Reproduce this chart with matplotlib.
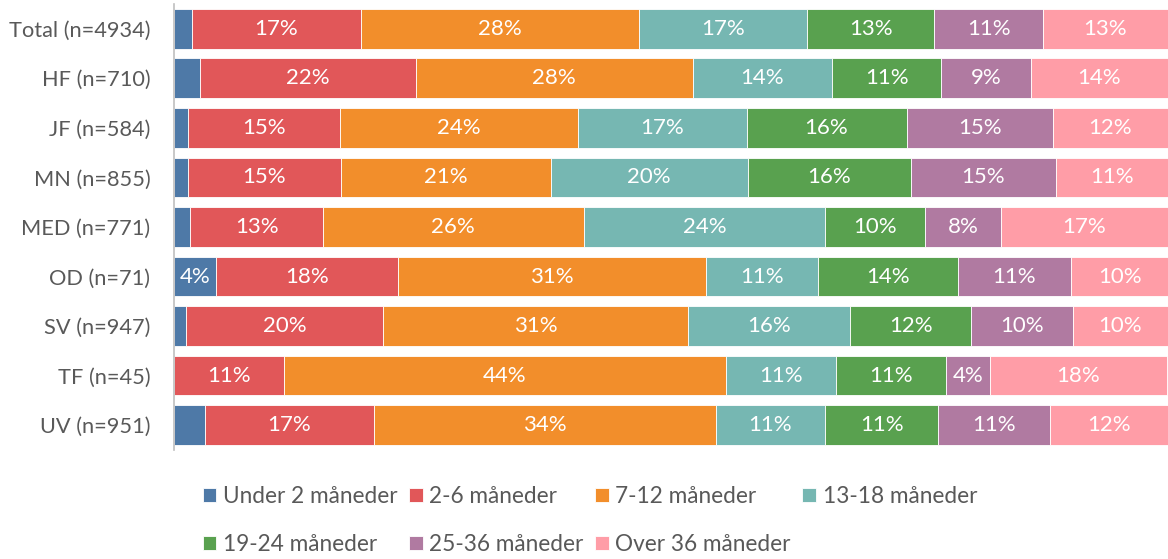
import numpy as np
import matplotlib.pyplot as plt

plt.rcParams["font.family"] = ["Lato", "DejaVu Sans"]

# data (percent per row)
groups = ["Total (n=4934)", "HF (n=710)", "JF (n=584)", "MN (n=855)", "MED (n=771)",
          "OD (n=71)", "SV (n=947)", "TF (n=45)", "UV (n=951)"]
series = ["Under 2 måneder", "2-6 måneder", "7-12 måneder", "13-18 måneder",
          "19-24 måneder", "25-36 måneder", "Over 36 måneder"]
under_2 = [1.8, 2.6, 1.4, 1.4, 1.6, 4.2, 1.2, 0.0, 3.1]
m2_6 = [17.0, 21.7, 15.3, 15.4, 13.4, 18.3, 19.8, 11.1, 17.0]
m7_12 = [28.0, 27.9, 23.9, 21.1, 26.2, 31.0, 30.7, 44.4, 34.4]
m13_18 = [16.9, 14.0, 17.0, 19.8, 24.3, 11.3, 16.3, 11.1, 11.0]
m19_24 = [12.8, 11.0, 16.1, 16.4, 10.1, 14.1, 12.2, 11.1, 11.4]
m25_36 = [10.9, 9.0, 14.7, 14.6, 7.6, 11.3, 10.2, 4.4, 11.2]
over_36 = [12.6, 13.8, 11.6, 11.3, 16.8, 9.9, 9.6, 17.8, 11.9]
colors = ["#4e79a7", "#e15759", "#f28e2b", "#76b7b2", "#59a14f", "#b07aa1", "#ff9da7"]

values = [under_2, m2_6, m7_12, m13_18, m19_24, m25_36, over_36]
txt = "#595959"

fig = plt.figure(figsize=(11.68, 5.59), dpi=100)
ax = fig.add_axes([0.149, 0.195, 0.851, 0.798])

y = np.arange(len(groups))
left = np.zeros(len(groups))
for name, vals, col in zip(series, values, colors):
    vals = np.array(vals)
    bars = ax.barh(y, vals, left=left, height=0.8, color=col, label=name,
                   edgecolor="white", linewidth=0.6)
    for b, v in zip(bars, vals):
        if v >= 3.5:
            ax.text(b.get_x() + b.get_width() / 2, b.get_y() + b.get_height() / 2,
                    f"{v:.0f}%", ha="center", va="center", color="white", fontsize=16)
    left += vals

ax.set_xlim(0, 100)
ax.set_ylim(len(groups) - 0.5, -0.5)
ax.set_yticks(y)
ax.set_yticklabels(groups, fontsize=15.7, color=txt)
ax.tick_params(axis="y", length=0, pad=17)
ax.set_xticks([])
for s in ["top", "right", "bottom"]:
    ax.spines[s].set_visible(False)
ax.spines["left"].set_color("#bfbfbf")
ax.spines["left"].set_linewidth(1.2)

# legend row by row (matplotlib fills columns first)
handles, labels = ax.get_legend_handles_labels()
order = [0, 4, 1, 5, 2, 6, 3]
leg = fig.legend([handles[i] for i in order], [labels[i] for i in order],
                 loc="upper center", bbox_to_anchor=(0.505, 0.163), ncol=4, frameon=False,
                 fontsize=16.3, handlelength=0.6, handleheight=0.6, handletextpad=0.3,
                 columnspacing=0.5, labelspacing=1.2, borderpad=0.3)
for t in leg.get_texts():
    t.set_color(txt)

plt.savefig("out.png", dpi=100)
